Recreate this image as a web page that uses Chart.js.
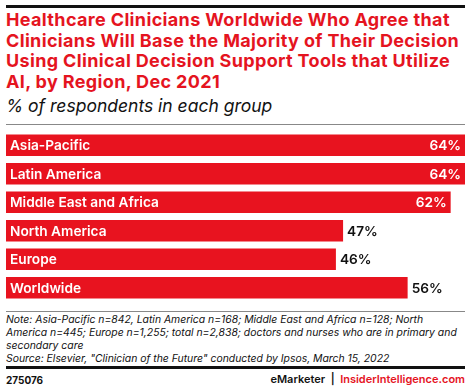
<!DOCTYPE html>
<html>
<head>
<meta charset="utf-8">
<script src="https://cdn.jsdelivr.net/npm/chart.js@4"></script>
<style>
    body { margin: 0; width: 470px; height: 389px; background: #fff; position: relative; overflow: hidden; font-family: Inter, "Liberation Sans", sans-serif; }
    .rule { position: absolute; left: 6px; right: 5px; }
    #title { position: absolute; left: 6px; top: 10px; width: 466px; white-space: nowrap; color: #e5141f; font-weight: 700; font-size: 18px; line-height: 20.5px; letter-spacing: 0.35px; }
    #subtitle { position: absolute; left: 6px; top: 95px; font-style: italic; font-size: 17.5px; color: #111; }
    #chartBox { position: absolute; left: 6px; top: 131px; width: 459px; height: 171px; }
    #notes { position: absolute; left: 6px; top: 313px; width: 464px; white-space: nowrap; font-style: italic; font-size: 10.4px; line-height: 13px; color: #111; }
    #code { position: absolute; left: 6px; top: 374px; font-weight: 700; font-size: 10px; color: #111; }
    #brand { position: absolute; right: 5px; top: 372px; font-size: 11px; font-weight: 600; color: #111; }
    #brand .ii { color: #e5141f; }
</style>
</head>
<body>
<div class="rule" style="top:5px;height:3px;background:#111;"></div>
<div id="title">Healthcare Clinicians Worldwide Who Agree that<br>Clinicians Will Base the Majority of Their Decision<br>Using Clinical Decision Support Tools that Utilize<br>AI, by Region, Dec 2021</div>
<div id="subtitle">% of respondents in each group</div>
<div class="rule" style="top:124px;height:1px;background:#888;"></div>
<div id="chartBox"><canvas id="chart"></canvas></div>
<div class="rule" style="top:311px;height:1px;background:#888;"></div>
<div id="notes">Note: Asia-Pacific n=842, Latin America n=168; Middle East and Africa n=128; North<br>America n=445; Europe n=1,255; total n=2,838; doctors and nurses who are in primary and<br>secondary care<br>Source: Elsevier, "Clinician of the Future" conducted by Ipsos, March 15, 2022</div>
<div class="rule" style="top:366px;height:3px;background:#111;"></div>
<div id="code">275076</div>
<div id="brand">eMarketer &nbsp;|&nbsp; <span class="ii">InsiderIntelligence.com</span></div>

<script>
const regions = ['Asia-Pacific', 'Latin America', 'Middle East and Africa', 'North America', 'Europe', 'Worldwide'];
const shares = [64, 64, 62, 47, 46, 56];

const barRed = '#e8131f';
const fontFamily = 'Inter, "Liberation Sans", sans-serif';

// draws region names inside bars and the % values
const barLabels = {
    id: 'barLabels',
    afterDatasetsDraw(chart) {
        const ctx = chart.ctx;
        const meta = chart.getDatasetMeta(0);
        const right = chart.chartArea.right;
        ctx.save();
        ctx.textBaseline = 'middle';
        ctx.font = '600 13.7px ' + fontFamily;
        meta.data.forEach((bar, i) => {
            const left = bar.base;
            ctx.fillStyle = '#fff';
            ctx.textAlign = 'left';
            ctx.fillText(regions[i], left + 4, bar.y + 1);

            const txt = shares[i] + '%';
            const w = ctx.measureText(txt).width;
            if (bar.x + 4 + w > right) {
                ctx.fillStyle = '#fff';
                ctx.textAlign = 'right';
                ctx.fillText(txt, bar.x - 4, bar.y + 1);
            } else {
                ctx.fillStyle = '#111';
                ctx.textAlign = 'left';
                ctx.fillText(txt, bar.x + 4, bar.y + 1);
            }
        });
        ctx.restore();
    }
};

new Chart(document.getElementById('chart'), {
    type: 'bar',
    data: {
        labels: regions,
        datasets: [{
            data: shares,
            backgroundColor: barRed,
            barPercentage: 0.76,
            categoryPercentage: 1
        }]
    },
    options: {
        indexAxis: 'y',
        responsive: true,
        maintainAspectRatio: false,
        animation: false,
        layout: { padding: 0 },
        plugins: {
            legend: { display: false },
            tooltip: { enabled: false }
        },
        scales: {
            x: { display: false, min: 0, max: 64 },
            y: { display: false }
        }
    },
    plugins: [barLabels]
});
</script>
</body>
</html>
